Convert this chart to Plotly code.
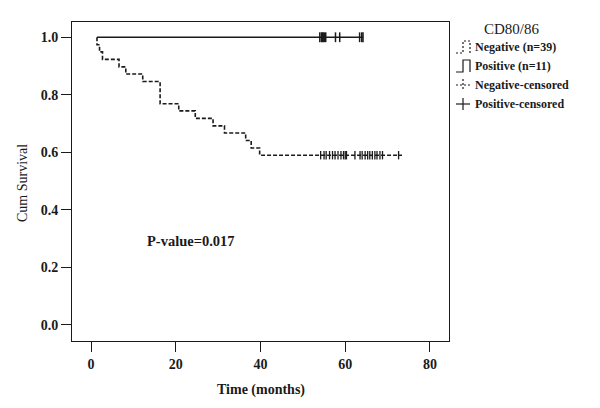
import plotly.graph_objects as go

# ---- data ----
neg_times = [1.4, 1.4, 2.0, 2.7, 6.6, 8.2, 12.2, 16.3, 20.7, 24.6, 28.8, 31.5, 36.5, 37.8, 39.8, 73.4]
neg_surv = [1.0, 0.974, 0.949, 0.923, 0.897, 0.872, 0.846, 0.769, 0.744, 0.718, 0.692, 0.667, 0.641, 0.615, 0.590, 0.590]

pos_times = [1.4, 64.2]
pos_surv = [1.0, 1.0]

neg_cens_times = [54.2, 55.0, 55.5, 56.3, 57.0, 57.6, 58.3, 59.0, 59.6, 60.0, 60.3,
                  62.3, 63.5, 64.0, 64.7, 65.3, 65.8, 66.4, 67.0, 67.5, 68.2, 68.8, 72.6]
neg_cens_surv = [0.590] * len(neg_cens_times)

pos_cens_times = [54.0, 54.4, 54.6, 54.8, 55.1, 55.4, 57.7, 58.7, 63.4, 63.9, 64.2]
pos_cens_surv = [1.0] * len(pos_cens_times)

x_ticks = [0, 20, 40, 60, 80]
y_ticks = [0.0, 0.2, 0.4, 0.6, 0.8, 1.0]

legend_title = "CD80/86"
legend_labels = ["Negative (n=39)", "Positive (n=11)", "Negative-censored", "Positive-censored"]
p_text = "P-value=0.017"

# ---- layout geometry (pixels in the 600x408 window) ----
OFF = 8  # page body margin offset
W, H = 600 - OFF, 408 - OFF
L, R, T, B = 72, 449, 22, 341  # plot frame in window pixels


def px(x):
    return (x - L) / (R - L)


def py(y):
    return (B - y) / (B - T)


SERIF = "Liberation Serif, Times New Roman, serif"
INK = "#1a1a1a"

fig = go.Figure()
fig.add_trace(go.Scatter(x=pos_times, y=pos_surv, mode="lines", line_shape="hv",
                         line=dict(color=INK, width=1.5), showlegend=False))
fig.add_trace(go.Scatter(x=neg_times, y=neg_surv, mode="lines", line_shape="hv",
                         line=dict(color=INK, width=1.6, dash="4px,2px"), showlegend=False))
fig.add_trace(go.Scatter(x=neg_cens_times, y=neg_cens_surv, mode="markers",
                         marker=dict(symbol="line-ns", size=6, line=dict(color=INK, width=1.3)),
                         showlegend=False))
fig.add_trace(go.Scatter(x=pos_cens_times, y=pos_cens_surv, mode="markers",
                         marker=dict(symbol="line-ns", size=7, line=dict(color=INK, width=1.5)),
                         showlegend=False))

axis_common = dict(showline=True, mirror=True, linecolor=INK, linewidth=1, showgrid=False,
                   zeroline=False, ticks="outside", ticklen=10, tickcolor=INK, tickwidth=1,
                   tickfont=dict(family=SERIF, size=14, color=INK, weight="bold"))
fig.update_xaxes(range=[-4.5, 84.5], tickvals=x_ticks, **axis_common)
fig.update_yaxes(range=[-0.056, 1.053], tickvals=y_ticks, tickformat=".1f", **axis_common)


def ann(text, x, y, size, xanchor="center", **kw):
    return dict(text=text, x=x, y=y, xref="paper", yref="paper", xanchor=xanchor,
                yanchor="middle", showarrow=False,
                font=dict(family=SERIF, size=size, color=INK), **kw)


anns = [
    ann("Cum Survival", px(22), py(183), 14, textangle=-90),
    ann("<b>Time (months)</b>", 0.5, py(390), 14),
    dict(text="<b>" + p_text + "</b>", x=23.5, y=0.292, xref="x", yref="y",
         xanchor="center", yanchor="middle", showarrow=False,
         font=dict(family=SERIF, size=14.5, color=INK)),
    ann(legend_title, px(512), py(29), 15),
]
row_y = [47, 66, 85, 104]
for lab, ry in zip(legend_labels, row_y):
    anns.append(ann("<b>" + lab + "</b>", px(473), py(ry), 12, xanchor="left"))

shapes = []
dashed = dict(color=INK, width=1.2, dash="2px,2px")
solid = dict(color=INK, width=1.2)
# row 1: dashed step icon
y0, y1 = row_y[0] + 6, row_y[0] - 6
shapes.append(dict(type="path", xref="paper", yref="paper", line=dashed,
                   path=f"M {px(456)} {py(y0)} L {px(463)} {py(y0)} L {px(463)} {py(y1)} L {px(470)} {py(y1)} L {px(470)} {py(y0)}"))
# row 2: solid step icon
y0, y1 = row_y[1] + 6, row_y[1] - 6
shapes.append(dict(type="path", xref="paper", yref="paper", line=solid,
                   path=f"M {px(456)} {py(y0)} L {px(463)} {py(y0)} L {px(463)} {py(y1)} L {px(470)} {py(y1)} L {px(470)} {py(y0)}"))
# row 3: dashed censor cross
ym = row_y[2]
shapes.append(dict(type="line", xref="paper", yref="paper", line=dashed,
                   x0=px(456), x1=px(470), y0=py(ym), y1=py(ym)))
shapes.append(dict(type="line", xref="paper", yref="paper", line=dashed,
                   x0=px(463), x1=px(463), y0=py(ym - 6), y1=py(ym + 6)))
# row 4: solid censor cross
ym = row_y[3]
shapes.append(dict(type="line", xref="paper", yref="paper", line=solid,
                   x0=px(456), x1=px(470), y0=py(ym), y1=py(ym)))
shapes.append(dict(type="line", xref="paper", yref="paper", line=solid,
                   x0=px(463), x1=px(463), y0=py(ym - 6), y1=py(ym + 6)))

fig.update_layout(width=W, height=H,
                  margin=dict(l=L - OFF, r=W - (R - OFF), t=T - OFF, b=H - (B - OFF)),
                  paper_bgcolor="white", plot_bgcolor="white",
                  annotations=anns, shapes=shapes, showlegend=False)

fig.write_html("out.html")
